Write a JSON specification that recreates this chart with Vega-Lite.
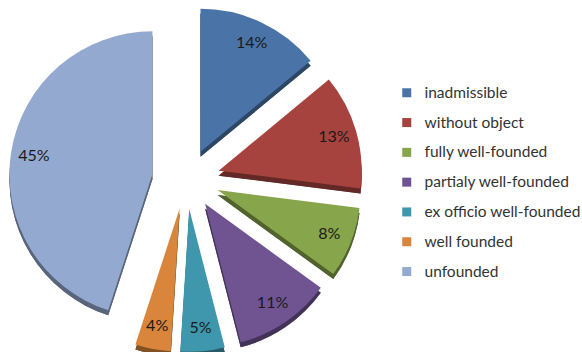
{
  "$schema": "https://vega.github.io/schema/vega-lite/v6.json",
  "width": 372,
  "height": 352,
  "padding": 0,
  "background": "white",
  "config": {"view": {"stroke": null}, "font": "Lato"},
  "data": {"values": [
    {"category": "inadmissible", "share": 0.14, "idx": 1},
    {"category": "without object", "share": 0.13, "idx": 2},
    {"category": "fully well-founded", "share": 0.08, "idx": 3},
    {"category": "partialy well-founded", "share": 0.11, "idx": 4},
    {"category": "ex officio well-founded", "share": 0.05, "idx": 5},
    {"category": "well founded", "share": 0.04, "idx": 6},
    {"category": "unfounded", "share": 0.45, "idx": 7}
  ]},
  "encoding": {
    "theta": {"field": "share", "type": "quantitative", "stack": true},
    "order": {"field": "idx", "type": "quantitative"}
  },
  "layer": [
    {
      "mark": {"type": "arc", "radius": 143, "color": "#000", "stroke": null,
        "x": {"expr": "width/2 + 34*sin((scale('theta', datum.share_start) + scale('theta', datum.share_end))/2)"},
        "y": {"expr": "height/2 + 8 - 30*cos((scale('theta', datum.share_start) + scale('theta', datum.share_end))/2)"}},
      "encoding": {"detail": {"field": "category", "type": "nominal"}}
    },
    {
      "mark": {"type": "arc", "radius": 143, "opacity": 0.6, "stroke": null,
        "x": {"expr": "width/2 + 34*sin((scale('theta', datum.share_start) + scale('theta', datum.share_end))/2)"},
        "y": {"expr": "height/2 + 8 - 30*cos((scale('theta', datum.share_start) + scale('theta', datum.share_end))/2)"}},
      "encoding": {"color": {"field": "category", "type": "nominal",
        "scale": {"domain": ["inadmissible", "without object", "fully well-founded", "partialy well-founded", "ex officio well-founded", "well founded", "unfounded"],
                  "range": ["#4A74A8", "#A6433F", "#87A54A", "#6F5491", "#3F97AE", "#D9853B", "#93A9CF"]},
        "legend": {"orient": "none", "legendX": 399, "legendY": 85, "title": null, "symbolType": "square", "symbolSize": 81, "symbolStrokeWidth": 0, "symbolOpacity": 1, "labelFont": "Lato", "labelFontSize": 15.5, "labelColor": "#333", "labelOffset": 10, "rowPadding": 12.8, "padding": 0}}}
    },
    {
      "mark": {"type": "arc", "radius": 143, "stroke": null,
        "x": {"expr": "width/2 + 34*sin((scale('theta', datum.share_start) + scale('theta', datum.share_end))/2)"},
        "y": {"expr": "height/2 + 3 - 30*cos((scale('theta', datum.share_start) + scale('theta', datum.share_end))/2)"}},
      "encoding": {"color": {"field": "category", "type": "nominal",
        "scale": {"domain": ["inadmissible", "without object", "fully well-founded", "partialy well-founded", "ex officio well-founded", "well founded", "unfounded"],
                  "range": ["#4A74A8", "#A6433F", "#87A54A", "#6F5491", "#3F97AE", "#D9853B", "#93A9CF"]},
        "legend": {"orient": "none", "legendX": 399, "legendY": 85, "title": null, "symbolType": "square", "symbolSize": 81, "symbolStrokeWidth": 0, "symbolOpacity": 1, "labelFont": "Lato", "labelFontSize": 15.5, "labelColor": "#333", "labelOffset": 10, "rowPadding": 12.8, "padding": 0}}}
    },
    {
      "mark": {"type": "text", "radius": 120, "font": "Lato", "fontSize": 16, "color": "#1a1a1a",
        "x": {"expr": "width/2 + 34*sin((scale('theta', datum.share_start) + scale('theta', datum.share_end))/2)"},
        "y": {"expr": "height/2 + 3 - 30*cos((scale('theta', datum.share_start) + scale('theta', datum.share_end))/2)"}},
      "encoding": {
        "text": {"field": "share", "type": "quantitative", "format": ".0%"},
        "detail": {"field": "category", "type": "nominal"}
      }
    }
  ]
}
